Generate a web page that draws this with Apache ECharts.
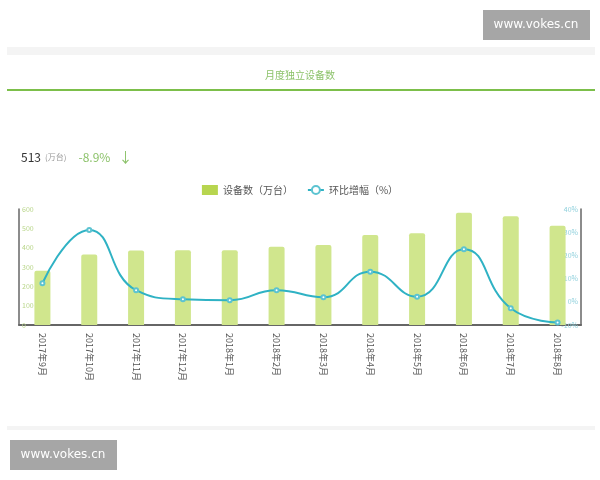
<!DOCTYPE html>
<html>
<head>
<meta charset="utf-8">
<script src="https://cdn.jsdelivr.net/npm/echarts@6/dist/echarts.min.js"></script>
<style>
html,body{margin:0;padding:0;background:#fff;}
#c{width:600px;height:480px;}
</style>
</head>
<body>
<div id="c"></div>
<script>
const categories = ['2017年9月','2017年10月','2017年11月','2017年12月','2018年1月','2018年2月','2018年3月','2018年4月','2018年5月','2018年6月','2018年7月','2018年8月'];
const devices = [280, 365, 385, 386, 386, 405, 414, 466, 474, 581, 563, 513];
const growth = [8, 31, 5, 1.1, 0.7, 5, 2, 13, 2.2, 22.7, -2.8, -8.9];
const leftTicks = {min: 0, max: 600, interval: 100};
const rightTicks = {min: -10, max: 40, interval: 10};
const FONT = '"Noto Sans CJK SC", "Noto Sans", sans-serif';

const chart = echarts.init(document.getElementById('c'));
chart.setOption({
  animation: false,
  backgroundColor: '#fff',
  textStyle: {fontFamily: FONT},
  title: [{
    text: '月度独立设备数',
    left: 'center',
    top: 65,
    textStyle: {color: '#8cc26a', fontSize: 10, fontWeight: 'normal', fontFamily: FONT}
  }, {
    text: '{a|513} {b|(万台)}   {c|-8.9%}  {d|↓}',
    left: 16,
    top: 143,
    textStyle: {
      fontFamily: FONT,
      fontWeight: 'normal',
      rich: {
        a: {fontSize: 12, color: '#333', fontFamily: FONT, fontWeight: 'normal'},
        b: {fontSize: 8, color: '#999', fontFamily: FONT, fontWeight: 'normal'},
        c: {fontSize: 12, color: '#8cc26a', fontFamily: FONT, fontWeight: 'normal'},
        d: {fontSize: 14, color: '#8cc26a', fontFamily: FONT, fontWeight: 'normal'}
      }
    }
  }],
  graphic: [
    {type: 'rect', shape: {x: 7, y: 47, width: 588, height: 8}, style: {fill: '#f4f4f4'}},
    {type: 'rect', shape: {x: 7, y: 89, width: 588, height: 2}, style: {fill: '#7cbf4a'}},
    {type: 'rect', shape: {x: 7, y: 426, width: 588, height: 4}, style: {fill: '#f4f4f4'}},
    {type: 'rect', shape: {x: 483, y: 10, width: 107, height: 30}, style: {fill: '#a6a6a6'}},
    {type: 'text', x: 536, y: 25, style: {text: 'www.vokes.cn', fill: '#fff', font: '12px "DejaVu Sans", sans-serif', align: 'center', verticalAlign: 'middle'}},
    {type: 'rect', shape: {x: 10, y: 440, width: 107, height: 30}, style: {fill: '#a6a6a6'}},
    {type: 'text', x: 63, y: 455, style: {text: 'www.vokes.cn', fill: '#fff', font: '12px "DejaVu Sans", sans-serif', align: 'center', verticalAlign: 'middle'}}
  ],
  legend: {
    top: 180,
    left: 'center',
    itemGap: 14,
    itemWidth: 16,
    itemHeight: 10,
    textStyle: {fontSize: 10, color: '#555', fontFamily: FONT},
    data: [
      {name: '设备数（万台）', icon: 'rect', itemStyle: {color: '#b7d54f'}},
      {name: '环比增幅（%）'}
    ]
  },
  grid: {left: 19, right: 19, top: 209, bottom: 155},
  xAxis: {
    type: 'category',
    data: categories,
    axisTick: {show: false},
    axisLine: {lineStyle: {color: '#666', width: 2}},
    axisLabel: {rotate: -90, fontSize: 9, color: '#555', margin: 8, interval: 0, fontFamily: FONT}
  },
  yAxis: [{
    type: 'value',
    min: leftTicks.min, max: leftTicks.max, interval: leftTicks.interval,
    axisLine: {show: true, lineStyle: {color: '#666', width: 1.5}},
    axisTick: {show: false},
    splitLine: {show: false},
    axisLabel: {inside: true, fontSize: 7, color: '#b9d68a', margin: 3}
  }, {
    type: 'value',
    min: rightTicks.min, max: rightTicks.max, interval: rightTicks.interval,
    axisLine: {show: true, lineStyle: {color: '#666', width: 1.5}},
    axisTick: {show: false},
    splitLine: {show: false},
    axisLabel: {inside: true, fontSize: 7, color: '#8fd0dc', margin: 3, formatter: '{value}%'}
  }],
  series: [{
    name: '设备数（万台）',
    type: 'bar',
    data: devices,
    barWidth: 16,
    itemStyle: {color: '#d0e68d', borderRadius: [2, 2, 0, 0]}
  }, {
    name: '环比增幅（%）',
    type: 'line',
    yAxisIndex: 1,
    data: growth,
    smooth: true,
    symbol: 'emptyCircle',
    symbolSize: 4,
    lineStyle: {color: '#2fb2c4', width: 2},
    itemStyle: {color: '#5cc3d1', borderWidth: 1},
    z: 5
  }]
});
</script>
</body>
</html>
